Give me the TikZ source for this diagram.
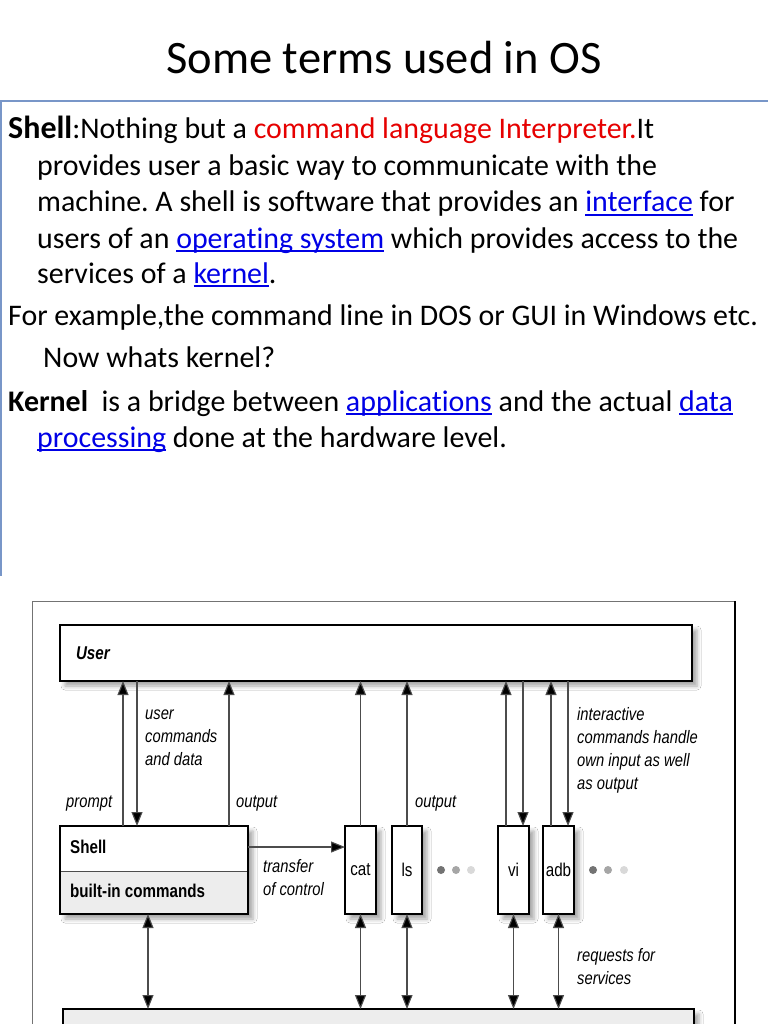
\documentclass[tikz,border=0pt]{standalone}
\usepackage{fontspec}
\setmainfont{Carlito}[Ligatures=NoCommon]
\newfontfamily\dg[FakeStretch=0.82]{Liberation Sans}
\usetikzlibrary{arrows.meta,shadows.blur}
\definecolor{lb}{RGB}{0,0,230}
\definecolor{rd}{RGB}{230,0,0}
\definecolor{bord}{RGB}{120,150,200}
\newcommand\lnk[1]{{\color{lb}\setbox0\hbox{#1}\rlap{\rule[-0.13em]{\wd0}{0.06em}}\box0}}
\newcommand\fl{\rule{0pt}{13pt}}
\frenchspacing
\begin{document}
\begin{tikzpicture}[x=1pt,y=-1pt,
  body/.style={anchor=base west, inner sep=0pt, font=\fontsize{29.9}{36}\selectfont},
  lab/.style={anchor=north west, inner sep=0pt, align=left, text=black,
    font=\dg\itshape\fontsize{18}{23}\selectfont},
  box/.style={draw=black, line width=2.2pt, fill=white, inner sep=0pt, outer sep=0pt,
    blur shadow={shadow xshift=5pt, shadow yshift=-5pt, shadow blur radius=4pt, shadow opacity=35}},
  prog/.style={box, minimum width=31pt, minimum height=88pt, font=\dg\fontsize{18.5}{22}\selectfont},
  tip/.style={Triangle[length=14pt,width=11pt,fill=black]},
  arr/.style={line width=1.1pt, draw=black!70, -{Triangle[length=14pt,width=11pt,fill=black]}},
  darr/.style={line width=1.1pt, draw=black!70, {Triangle[length=14pt,width=11pt,fill=black]}-{Triangle[length=14pt,width=11pt,fill=black]}},
  dot/.style={circle, inner sep=0pt, minimum size=8pt}
]
\clip (0,0) rectangle (768,1024);
\fill[white] (0,0) rectangle (768,1024);

% ---------- title and text ----------
\node[font=\fontsize{46.5}{54}\selectfont] (title) at (384,58) {Some terms used in OS};
\draw[bord, line width=1.5pt] (0,101) -- (768,101);
\draw[bord, line width=1.5pt] (1,101) -- (1,576);

\node[body] (l1) at (8,139) {{\fontsize{32}{36}\selectfont\bfseries Shell}:Nothing but a \textcolor{rd}{command language Interpreter.}It};
\node[body] (l2) at (37,176) {provides user a basic way to communicate with the};
\node[body] (l3) at (37,212) {machine. A shell is software that provides an \lnk{interface} for};
\node[body] (l4) at (37,248) {users of an \lnk{operating system} which provides access to the};
\node[body] (l5) at (37,283) {services of a \lnk{kernel}.};
\node[body] (l6) at (8,325) {For example,the command line in DOS or GUI in Windows etc.};
\node[body] (l7) at (43,367) {Now whats kernel?};
\node[body] (l8) at (8,411) {\textbf{Kernel}\ \ is a bridge between \lnk{applications} and the actual \lnk{data}};
\node[body] (l9) at (37,447) {\lnk{processing} done at the hardware level.};

% ---------- diagram frame ----------
\draw[black!55, line width=1pt] (32,1030) -- (32,601) -- (735,601);
\draw[black, line width=2pt] (735,601) -- (735,1030);

% ---------- boxes ----------
\node[box, minimum width=632pt, minimum height=56pt, text width=600pt, inner xsep=16pt, align=left,
  font=\dg\bfseries\itshape\fontsize{18.5}{22}\selectfont] (user) at (376,653) {User};

\node[box, minimum width=188pt, minimum height=88pt] (shell) at (154,870) {};
\fill[gray!14] (60,871) rectangle (shell.south east);
\draw[black!70, line width=1pt] (60,871) -- (248,871);
\draw[black, line width=2.2pt] (shell.south west) rectangle (shell.north east);
\node[anchor=west, inner sep=0pt, font=\dg\bfseries\fontsize{18.5}{22}\selectfont] (shelltxt) at (70,847) {Shell};
\node[anchor=west, inner sep=0pt, font=\dg\bfseries\fontsize{18.5}{22}\selectfont] (bic) at (70,891) {built-in commands};

\node[prog] (cat) at (360.5,870) {cat};
\node[prog, minimum width=30pt] (ls) at (407,870) {ls};
\node[prog] (vi) at (513.5,870) {vi};
\node[prog] (adb) at (558.5,870) {adb};

\node[box, fill=gray!14, minimum width=631pt, minimum height=40pt, anchor=north west] (kern) at (63,1009) {};

% dots
\node[dot, fill=black!55] (d1) at (441,870) {};
\node[dot, fill=black!35] (d2) at (456,870) {};
\node[dot, fill=black!15] (d3) at (471,870) {};
\node[dot, fill=black!55] (d4) at (593,870) {};
\node[dot, fill=black!35] (d5) at (608,870) {};
\node[dot, fill=black!15] (d6) at (624,870) {};

% ---------- connectors ----------
\coordinate (xp) at (123,0);
\coordinate (xu) at (137,0);
\coordinate (xo) at (229,0);
\coordinate (xs) at (148,0);
\coordinate (xvu) at (506,0);
\coordinate (xvd) at (523,0);
\coordinate (xau) at (551,0);
\coordinate (xad) at (568,0);

\draw[arr] (shell.north -| xp) -- (user.south -| xp);
\draw[arr] (user.south -| xu) -- (shell.north -| xu);
\draw[arr] (shell.north -| xo) -- (user.south -| xo);
\draw[arr] (cat.north) -- (user.south -| cat.north);
\draw[arr] (ls.north) -- (user.south -| ls.north);
\draw[arr] (vi.north -| xvu) -- (user.south -| xvu);
\draw[arr] (user.south -| xvd) -- (vi.north -| xvd);
\draw[arr] (adb.north -| xau) -- (user.south -| xau);
\draw[arr] (user.south -| xad) -- (adb.north -| xad);

\draw[arr] (shelltxt -| shell.east) -- (shelltxt -| cat.west);

\draw[darr] (shell.south -| xs) -- (kern.north -| xs);
\draw[darr] (cat.south) -- (kern.north -| cat.south);
\draw[darr] (ls.south) -- (kern.north -| ls.south);
\draw[darr] (vi.south) -- (kern.north -| vi.south);
\draw[darr] (adb.south) -- (kern.north -| adb.south);

% ---------- labels ----------
\node[lab] (lucd) at (145,706) {\fl user\\commands\\and data};
\node[lab] (lprompt) at (66,794) {\fl prompt};
\node[lab] (lout1) at (236,794) {\fl output};
\node[lab] (lout2) at (415,794) {\fl output};
\node[lab] (linter) at (577,707) {\fl interactive\\commands handle\\own input as well\\as output};
\node[lab] (ltrans) at (263,859) {\fl transfer\\of control};
\node[lab] (lreq) at (577,948) {\fl requests for\\services};
\end{tikzpicture}
\end{document}
